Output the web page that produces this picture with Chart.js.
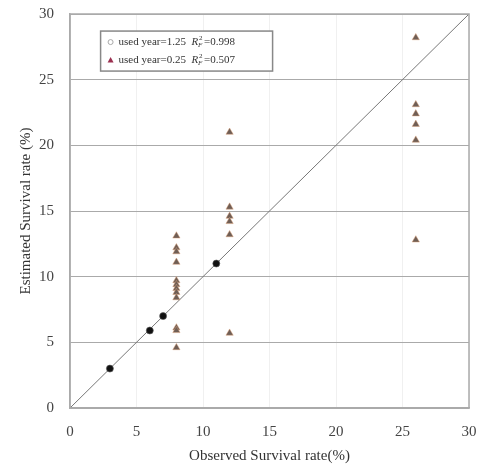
<!DOCTYPE html>
<html><head><meta charset="utf-8">
<script src="https://cdn.jsdelivr.net/npm/chart.js@4.4.0/dist/chart.umd.min.js"></script>
<style>html,body{margin:0;padding:0;background:#fff;}#wrap{width:486px;height:469px;}</style>
</head><body><div id="wrap"><canvas id="c" width="486" height="469"></canvas></div>
<script>
const obs125 = [3, 6, 7, 11];
const est125 = [3.0, 5.9, 7.0, 11.0];
const obs025 = [8,8,8,8,8,8,8,8,8,8,8,8, 12,12,12,12,12,12, 26,26,26,26,26,26];
const est025 = [13.1,12.2,11.9,11.1,9.7,9.4,9.1,8.8,8.4,6.1,5.9,4.6, 21.0,15.3,14.6,14.2,13.2,5.7, 28.2,23.1,22.4,21.6,20.4,12.8];
const lineX = [0, 30];
const tickVals = [0,5,10,15,20,25,30];
const legend1 = {pre:'used year=1.25  ', val:'=0.998'};
const legend2 = {pre:'used year=0.25  ', val:'=0.507'};

const pts = (xs, ys) => xs.map((x,i)=>({x, y: ys[i]}));
const serif = '"Liberation Serif", "Times New Roman", serif';

const legendPlugin = {
  id:'boxLegend',
  afterDraw(chart){
    const {ctx, scales:{x,y}} = chart;
    const left = x.getPixelForValue(2.3), top = y.getPixelForValue(28.7);
    const w = 172, h = 40;
    ctx.save();
    ctx.strokeStyle = '#888'; ctx.lineWidth = 1.5;
    ctx.fillStyle = '#fff';
    ctx.fillRect(left, top, w, h);
    ctx.strokeRect(left, top, w, h);
    const rows = [legend1, legend2];
    rows.forEach((r, i) => {
      const cy = top + 11 + i*18;
      if (i === 0) {
        ctx.beginPath(); ctx.arc(left+10, cy, 2.5, 0, Math.PI*2);
        ctx.strokeStyle = '#aaa'; ctx.lineWidth = 1; ctx.fillStyle='#fff'; ctx.fill(); ctx.stroke();
      } else {
        ctx.beginPath(); ctx.moveTo(left+10, cy-3); ctx.lineTo(left+13, cy+2.5); ctx.lineTo(left+7, cy+2.5); ctx.closePath();
        ctx.fillStyle = '#9b3050'; ctx.fill();
      }
      ctx.fillStyle = '#333'; ctx.textBaseline = 'middle'; ctx.textAlign = 'left';
      let px = left + 18;
      ctx.font = '11px ' + serif;
      ctx.fillText(r.pre, px, cy); px += ctx.measureText(r.pre).width;
      ctx.font = 'italic 11px ' + serif;
      ctx.fillText('R', px, cy); px += ctx.measureText('R').width;
      ctx.font = 'italic 7px ' + serif;
      ctx.fillText('F', px, cy+3);
      ctx.font = '7px ' + serif;
      ctx.fillText('2', px+1, cy-4); px += 6;
      ctx.font = '11px ' + serif;
      ctx.fillText(r.val, px, cy);
    });
    ctx.restore();
  }
};

new Chart(document.getElementById('c'), {
  type:'scatter',
  data:{datasets:[
    {label:'1:1', type:'line', data: pts(lineX, lineX), borderColor:'#777', borderWidth:1, pointRadius:0, fill:false, order:3},
    {label:'0.25', data: pts(obs025, est025), pointStyle:'triangle', pointRadius:4.2, backgroundColor:'#6f5e55', borderColor:'rgba(220,160,120,0.45)', borderWidth:1, order:2},
    {label:'1.25', data: pts(obs125, est125), pointStyle:'circle', pointRadius:3.5, backgroundColor:'#111', borderColor:'rgba(90,90,90,0.6)', borderWidth:1, order:1}
  ]},
  options:{
    responsive:false, animation:false, devicePixelRatio:1,
    layout:{padding:{top:14, right:17, left:0, bottom:0}},
    plugins:{legend:{display:false}, tooltip:{enabled:false}},
    scales:{
      x:{type:'linear', min:0, max:30,
        afterBuildTicks(a){a.ticks = tickVals.map(v=>({value:v}));},
        ticks:{color:'#444', font:{family:serif, size:15}, padding:15},
        grid:{color:'#f0f0f0', drawTicks:false},
        border:{display:true, color:'#aaa', width:1.5},
        title:{display:true, text:'Observed Survival rate(%)', color:'#333', font:{family:serif, size:15}, padding:{top:0}},
        afterFit(a){a.height = 61; a.paddingLeft = 0; a.paddingRight = 0;}
      },
      y:{type:'linear', min:0, max:30,
        afterBuildTicks(a){a.ticks = tickVals.map(v=>({value:v}));},
        ticks:{color:'#444', font:{family:serif, size:15}, padding:16},
        grid:{color:'#aaa', lineWidth:1, drawTicks:false},
        border:{display:true, color:'#aaa', width:1.5},
        title:{display:true, text:'Estimated Survival rate (%)', color:'#333', font:{family:serif, size:15}, padding:{top:17, bottom:0}},
        afterFit(a){a.width = 70; a.paddingTop = 0; a.paddingBottom = 0;}
      }
    }
  },
  plugins:[legendPlugin, {
    id:'frame',
    afterDatasetsDraw(chart){
      const {ctx, chartArea:ca} = chart;
      ctx.save(); ctx.strokeStyle='#aaa'; ctx.lineWidth=1.5;
      ctx.strokeRect(ca.left, ca.top, ca.right-ca.left, ca.bottom-ca.top);
      ctx.restore();
    }
  }]
});
</script></body></html>
